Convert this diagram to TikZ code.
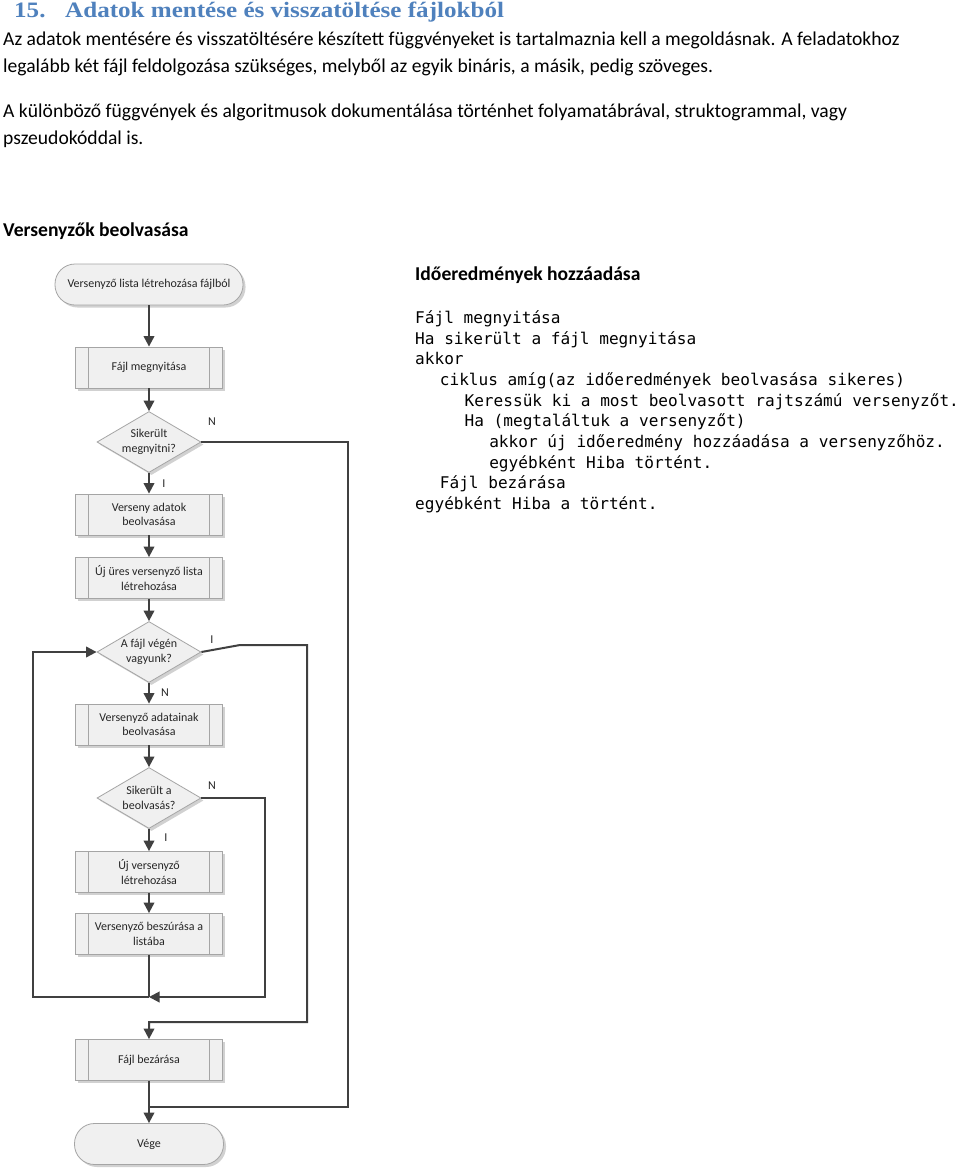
\documentclass[tikz,border=0pt]{standalone}
\usepackage{fontspec}
\setmainfont{Carlito}
\newfontfamily\titlefont[FakeStretch=1.14]{Liberation Serif}
\newfontfamily\codefont{DejaVu Sans Mono}
\usetikzlibrary{arrows.meta,shapes.geometric,shadows}
\definecolor{titleblue}{RGB}{79,129,189}
\definecolor{linegray}{RGB}{64,64,64}
\definecolor{boxfill}{RGB}{240,240,240}
\definecolor{boxdraw}{RGB}{165,165,165}
\definecolor{flowtext}{RGB}{38,38,38}
\begin{document}
\begin{tikzpicture}[x=1pt,y=-1pt,
  txt/.style={anchor=base west, inner sep=0pt, font=\fontsize{19.6}{23}\selectfont},
  code/.style={anchor=base west, inner sep=0pt, font=\codefont\fontsize{16.1}{20}\selectfont},
  shade/.style={drop shadow={shadow xshift=2.5pt, shadow yshift=-2.5pt, fill=black!18, opacity=1}},
  proc/.style={shade, draw=boxdraw, fill=boxfill, line width=0.8pt, minimum width=147pt, minimum height=41pt, inner sep=0pt, align=center, font=\fontsize{12}{14.5}\selectfont, text=flowtext,
    path picture={\draw[boxdraw, line width=0.8pt] ([xshift=13pt]path picture bounding box.north west) -- ([xshift=13pt]path picture bounding box.south west);
                  \draw[boxdraw, line width=0.8pt] ([xshift=-13pt]path picture bounding box.north east) -- ([xshift=-13pt]path picture bounding box.south east);}},
  term/.style={shade, draw=boxdraw, fill=boxfill, line width=0.8pt, rounded corners=20pt, minimum height=41pt, inner sep=0pt, align=center, font=\fontsize{12}{14.5}\selectfont, text=flowtext},
  dec/.style={shade, diamond, draw=boxdraw, fill=boxfill, line width=0.8pt, minimum width=104pt, minimum height=61pt, aspect=1.7, inner sep=0pt},
  dtext/.style={align=center, inner sep=0pt, font=\fontsize{12}{14.5}\selectfont, text=flowtext},
  lbl/.style={inner sep=0pt, font=\fontsize{12}{14.5}\selectfont, text=flowtext},
  line/.style={draw=linegray, line width=2pt},
  flow/.style={line, -{Triangle[length=10.5pt,width=10.5pt]}}
]
\useasboundingbox (0,0) rectangle (960,1168);
\fill[white] (0,0) rectangle (960,1168);

% header text
\node[anchor=base west, inner sep=0pt, font=\titlefont\bfseries\fontsize{22}{26}\selectfont, text=titleblue] (titlenum) at (14,17.3) {15.};
\node[anchor=base west, inner sep=0pt, font=\titlefont\bfseries\fontsize{22}{26}\selectfont, text=titleblue] (title) at (65,17.3) {Adatok mentése és visszatöltése fájlokból};
\node[txt] (p1) at (3,45.7) {Az adatok mentésére és visszatöltésére készített függvényeket is tartalmaznia kell a megoldásnak. A feladatokhoz};
\node[txt] (p2) at (3,72.7) {legalább két fájl feldolgozása szükséges, melyből az egyik bináris, a másik, pedig szöveges.};
\node[txt] (p3) at (3,117.3) {A különböző függvények és algoritmusok dokumentálása történhet folyamatábrával, struktogrammal, vagy};
\node[txt] (p4) at (3,144.2) {pszeudokóddal is.};
\node[txt, font=\bfseries\fontsize{19.6}{23}\selectfont] (h1) at (3,236) {Versenyzők beolvasása};
\node[txt, font=\bfseries\fontsize{19.6}{23}\selectfont] (h2) at (415,280) {Időeredmények hozzáadása};

% pseudocode
\node[code] (c1) at (415,323.3) {Fájl megnyitása};
\node[code] (c2) at (415,344) {Ha sikerült a fájl megnyitása};
\node[code] (c3) at (415,364.7) {akkor};
\node[code] (c4) at (439.7,385.4) {ciklus amíg(az időeredmények beolvasása sikeres)};
\node[code] (c5) at (464.4,406.1) {Keressük ki a most beolvasott rajtszámú versenyzőt.};
\node[code] (c6) at (464.4,426.8) {Ha (megtaláltuk a versenyzőt)};
\node[code] (c7) at (489.1,447.5) {akkor új időeredmény hozzáadása a versenyzőhöz.};
\node[code] (c8) at (489.1,468.2) {egyébként Hiba történt.};
\node[code] (c9) at (439.7,488.9) {Fájl bezárása};
\node[code] (c10) at (415,509.6) {egyébként Hiba a történt.};

% flowchart nodes
\node[term, minimum width=188pt] (start) at (149,284.5) {Versenyző lista létrehozása fájlból};
\node[proc] (b1) at (149,367.5) {Fájl megnyitása};
\node[dec] (d1) at (149,442) {};
\node[dtext] (d1t) at (149,442) {Sikerült\\megnyitni?};
\node[proc] (b2) at (149,514.5) {Verseny adatok\\beolvasása};
\node[proc] (b3) at (149,578) {Új üres versenyző lista\\létrehozása};
\node[dec] (d2) at (149,652) {};
\node[dtext] (d2t) at (149,652) {A fájl végén\\vagyunk?};
\node[proc] (b4) at (149,724.5) {Versenyző adatainak\\beolvasása};
\node[dec] (d3) at (149,798) {};
\node[dtext] (d3t) at (149,798) {Sikerült a\\beolvasás?};
\node[proc] (b5) at (149,872) {Új versenyző\\létrehozása};
\node[proc] (b6) at (149,934) {Versenyző beszúrása a\\listába};
\node[proc] (b7) at (149,1060) {Fájl bezárása};
\node[term, minimum width=149pt] (end) at (149,1144) {Vége};

% branch labels
\node[lbl] (l1) at (212,422) {N};
\node[lbl] (l2) at (164,484) {I};
\node[lbl] (l3) at (212,640) {I};
\node[lbl] (l4) at (165,693) {N};
\node[lbl] (l5) at (212,786) {N};
\node[lbl] (l6) at (166,838) {I};

% junction coordinates
\coordinate (j1) at (149,997);
\coordinate (j2) at (149,1022);
\coordinate (j3) at (149,1107);

% connectors
\draw[flow] (start) -- (b1);
\draw[flow] (b1) -- (d1);
\draw[flow] (d1) -- (b2);
\draw[flow] (b2) -- (b3);
\draw[flow] (b3) -- (d2);
\draw[flow] (d2) -- (b4);
\draw[flow] (b4) -- (d3);
\draw[flow] (d3) -- (b5);
\draw[flow] (b5) -- (b6);
\draw[line] (b6.south) -- (j1);
\draw[flow] (j1) -- (33,997) -- (33,652) -- (d2.west);
\draw[flow] (d3.east) -- (265,798) -- (265,997) -- (j1);
\draw[flow] (d2.east) -- (240,645) -- (307,645) -- (307,1022) -- (j2) -- (b7.north);
\draw[flow] (b7) -- (end);
\draw[line] (d1.east) -- (348,442) -- (348,1107) -- (j3);
\end{tikzpicture}
\end{document}
